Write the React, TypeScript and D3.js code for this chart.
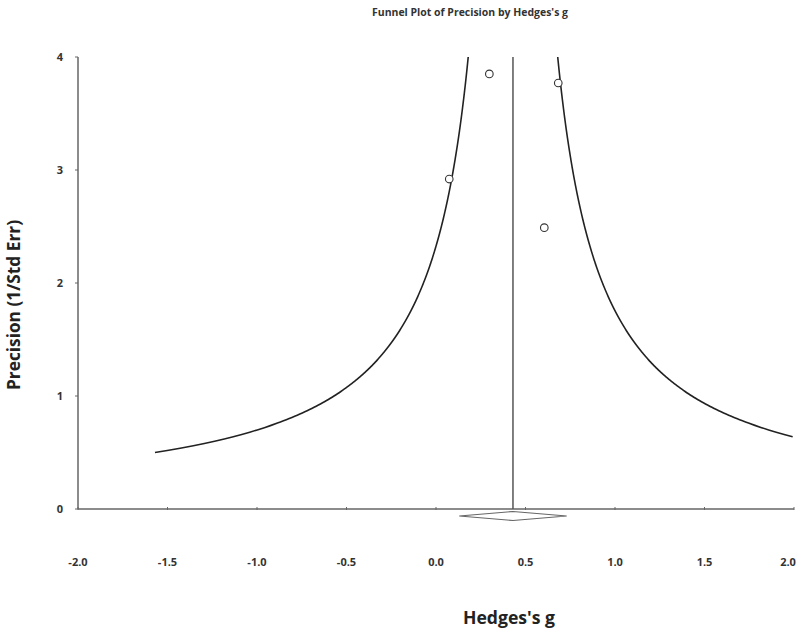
import React from "react";
import * as d3 from "d3";

const studyG = [0.298, 0.683, 0.074, 0.605];
const studyPrecision = [3.85, 3.77, 2.92, 2.49];
const xTicks = [-2.0, -1.5, -1.0, -0.5, 0.0, 0.5, 1.0, 1.5, 2.0];
const yTicks = [0, 1, 2, 3, 4];
const pooledG = 0.43;
const pooledLower = 0.13;
const pooledUpper = 0.73;
const funnelWidth = 1.0;
const precisionMin = 0.5;
const precisionMax = 4;

export default function App() {
  const W = 800, H = 631;
  const x = d3.scaleLinear().domain([-2, 2]).range([78, 794]);
  const y = d3.scaleLinear().domain([0, 4]).range([509, 57]);

  const precs = d3.range(precisionMin, precisionMax + 0.0001, 0.02);
  const leftPts: [number, number][] = precs
    .map((p) => [pooledG - funnelWidth / p, p] as [number, number])
    .filter((d) => d[0] >= -2);
  const rightPts: [number, number][] = precs
    .map((p) => [pooledG + funnelWidth / p, p] as [number, number])
    .filter((d) => d[0] <= 2);
  const line = d3
    .line<[number, number]>()
    .x((d) => x(d[0]))
    .y((d) => y(d[1]))
    .curve(d3.curveMonotoneY);

  const dy = y(0) + 7;
  const diamond = `M${x(pooledLower)},${dy} L${x(pooledG)},${dy - 4.5} L${x(pooledUpper)},${dy} L${x(pooledG)},${dy + 4.5} Z`;

  const font = "'Open Sans', 'DejaVu Sans', sans-serif";
  const axisCol = "#666";

  return (
    <svg width={W} height={H} style={{ position: "absolute", left: 0, top: 0, background: "#fff" }} fontFamily={font}>
      <rect x={0} y={0} width={W} height={H} fill="#fff" />
      <text x={470} y={16} textAnchor="middle" fontSize={11} fontWeight="bold" fill="#333" textLength={196} lengthAdjust="spacingAndGlyphs">
        Funnel Plot of Precision by Hedges's g
      </text>

      {/* axes */}
      <line x1={x(-2)} x2={x(-2)} y1={y(4)} y2={y(0)} stroke={axisCol} strokeWidth={1.5} />
      <line x1={x(-2)} x2={x(2)} y1={y(0)} y2={y(0)} stroke={axisCol} strokeWidth={1.5} />
      {yTicks.map((t) => (
        <g key={"y" + t}>
          <line x1={x(-2) - 3} x2={x(-2)} y1={y(t)} y2={y(t)} stroke={axisCol} strokeWidth={1} />
          <text x={60} y={y(t) + 4} textAnchor="middle" fontSize={11} fontWeight="bold" fill="#333">
            {t}
          </text>
        </g>
      ))}
      {xTicks.map((t) => (
        <g key={"x" + t}>
          <line x1={x(t)} x2={x(t)} y1={y(0) - 2} y2={y(0) + 1} stroke={axisCol} strokeWidth={1} />
          <text x={Math.min(x(t), 788)} y={566} textAnchor="middle" fontSize={11} fontWeight="bold" fill="#333">
            {t.toFixed(1)}
          </text>
        </g>
      ))}

      <text
        transform={`translate(20,305) rotate(-90)`}
        textAnchor="middle"
        fontSize={17}
        fontWeight="bold"
        fill="#222"
        textLength={170}
        lengthAdjust="spacingAndGlyphs"
      >
        Precision (1/Std Err)
      </text>
      <text x={509} y={624} textAnchor="middle" fontSize={17} fontWeight="bold" fill="#222" textLength={92} lengthAdjust="spacingAndGlyphs">
        Hedges's g
      </text>

      {/* mean line */}
      <line x1={x(pooledG)} x2={x(pooledG)} y1={y(4)} y2={y(0)} stroke="#555" strokeWidth={1.5} />

      {/* funnel */}
      <path d={line(leftPts) || ""} fill="none" stroke="#222" strokeWidth={1.6} />
      <path d={line(rightPts) || ""} fill="none" stroke="#222" strokeWidth={1.6} />

      {/* diamond */}
      <path d={diamond} fill="#fff" stroke="#666" strokeWidth={1.2} />

      {/* studies */}
      {studyG.map((g, i) => (
        <circle key={i} cx={x(g)} cy={y(studyPrecision[i])} r={3.8} fill="#fff" stroke="#333" strokeWidth={1.1} />
      ))}
    </svg>
  );
}
